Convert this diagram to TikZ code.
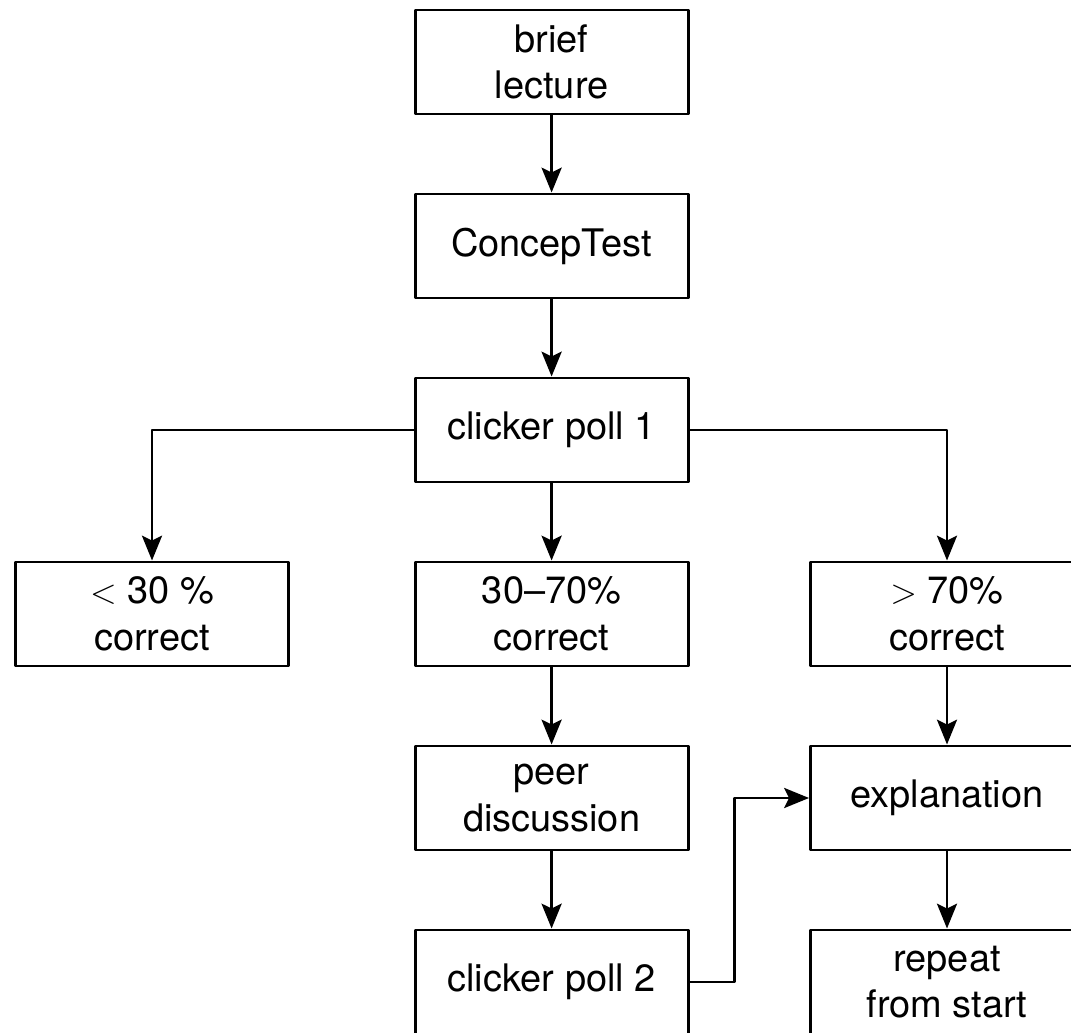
\documentclass[tikz,border=0pt]{standalone}
\usepackage{fontspec}
\setmainfont{TeX Gyre Heros}
\usetikzlibrary{arrows.meta}
\begin{document}
\begin{tikzpicture}[line join=round, >={Stealth[length=0.62cm,width=0.5cm,inset=0.12cm]},
    font=\fontsize{27}{33}\selectfont,
    stepbox/.style={draw, line width=2.1pt, minimum width=6.825cm, minimum height=2.6cm, align=center, inner sep=0pt},
    flow/.style={->, line width=2.1pt}]
    \useasboundingbox (0,0) rectangle (26.775,25.825);
    % main column
    \node[stepbox] (lecture) at (13.79,24.275) {brief\\lecture};
    \node[stepbox] (test) at (13.79,19.675) {ConcepTest};
    \node[stepbox] (poll1) at (13.79,15.075) {clicker poll 1};
    % outcomes
    \node[stepbox] (low) at (3.8,10.475) {$<$ 30 \%\\correct};
    \node[stepbox] (mid) at (13.79,10.475) {30--70\%\\correct};
    \node[stepbox] (high) at (23.675,10.475) {$>$ 70\%\\correct};
    \node[stepbox] (peer) at (13.79,5.875) {peer\\discussion};
    \node[stepbox] (expl) at (23.675,5.875) {explanation};
    \node[stepbox] (poll2) at (13.79,1.275) {clicker poll 2};
    \node[stepbox] (repeat) at (23.675,1.275) {repeat\\from start};
    \draw[flow] (lecture) -- (test);
    \draw[flow] (test) -- (poll1);
    \draw[flow] (poll1) -- (mid);
    \draw[flow] (poll1.west) -| (low.north);
    \draw[flow] (poll1.east) -| (high.north);
    \draw[flow] (mid) -- (peer);
    \draw[flow] (peer) -- (poll2);
    \draw[flow] (high) -- (expl);
    \draw[flow] (expl) -- (repeat);
    \draw[flow] (poll2.east) -- ++(1.125,0) |- (expl.west);
\end{tikzpicture}
\end{document}
